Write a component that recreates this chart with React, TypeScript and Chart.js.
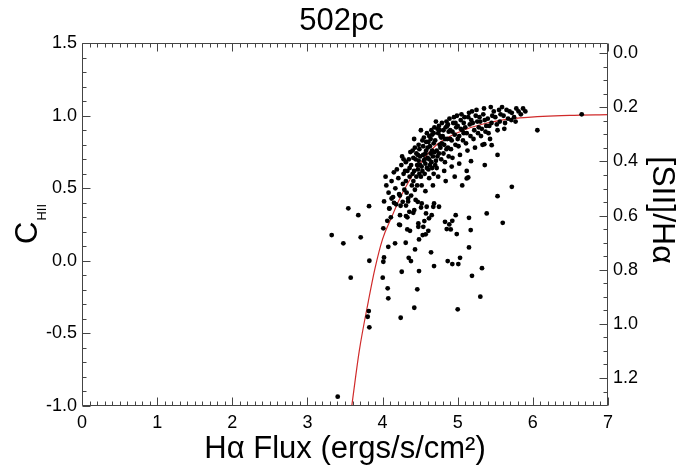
import React, { useEffect, useRef } from 'react';
import { Chart, registerables } from 'chart.js';
Chart.register(...registerables);

const TITLE = '502pc';
const X_TITLE = 'Hα Flux (ergs/s/cm²)';
const Y_TITLE_MAIN = 'C';
const Y_TITLE_SUB = 'HII';
const Y2_TITLE = '[SII]/Hα';

const xTicks = [0, 1, 2, 3, 4, 5, 6, 7];
const yTicks = [-1.0, -0.5, 0.0, 0.5, 1.0, 1.5];
const y2Ticks = [0.0, 0.2, 0.4, 0.6, 0.8, 1.0, 1.2];

// red fit curve
const fitX = [3.59, 3.69, 3.81, 3.9, 4.0, 4.12, 4.22, 4.46, 4.72, 5.03, 5.39, 5.83, 6.49, 7.0];
const fitY = [-1.0, -0.62, -0.28, -0.05, 0.15, 0.3, 0.42, 0.64, 0.8, 0.89, 0.95, 0.985, 1.003, 1.008];

// dense upper band of points
const bandPoints: [number, number][] = [
  [4.02, 0.41], [4.05, 0.52], [4.08, 0.47], [4.04, 0.58], [4.09, 0.36],
  [4.12, 0.55], [4.15, 0.61], [4.19, 0.63], [4.14, 0.44], [4.17, 0.5], [4.11, 0.3], [4.18, 0.39],
  [4.22, 0.46], [4.23, 0.45], [4.21, 0.57], [4.25, 0.66], [4.27, 0.53], [4.24, 0.38], [4.28, 0.6], [4.26, 0.72], [4.29, 0.49], [4.22, 0.25],
  [4.31, 0.55], [4.33, 0.62], [4.35, 0.7], [4.32, 0.47], [4.36, 0.58], [4.38, 0.66], [4.34, 0.41], [4.39, 0.52], [4.37, 0.75], [4.31, 0.68], [4.38, 0.45], [4.33, 0.3],
  [4.4, 0.76], [4.42, 0.62], [4.44, 0.7], [4.41, 0.55], [4.46, 0.66], [4.45, 0.58], [4.48, 0.8], [4.43, 0.49], [4.47, 0.73], [4.49, 0.6], [4.42, 0.84], [4.46, 0.52], [4.44, 0.42], [4.48, 0.69],
  [4.5, 0.72], [4.52, 0.65], [4.54, 0.79], [4.51, 0.58], [4.56, 0.7], [4.55, 0.85], [4.58, 0.76], [4.53, 0.62], [4.57, 0.67], [4.59, 0.88], [4.52, 0.52], [4.56, 0.6], [4.58, 0.82], [4.54, 0.73], [4.51, 0.9], [4.57, 0.48],
  [4.6, 0.78], [4.62, 0.7], [4.64, 0.84], [4.61, 0.63], [4.66, 0.76], [4.65, 0.9], [4.68, 0.81], [4.63, 0.66], [4.67, 0.72], [4.69, 0.92], [4.62, 0.57], [4.66, 0.87], [4.64, 0.74], [4.68, 0.6], [4.61, 0.82], [4.67, 0.52],
  [4.7, 0.83], [4.72, 0.76], [4.74, 0.88], [4.71, 0.69], [4.76, 0.8], [4.75, 0.93], [4.78, 0.85], [4.73, 0.72], [4.77, 0.78], [4.79, 0.95], [4.72, 0.64], [4.76, 0.9], [4.74, 0.58], [4.78, 0.7], [4.71, 0.96],
  [4.8, 0.86], [4.82, 0.8], [4.84, 0.92], [4.81, 0.74], [4.86, 0.84], [4.85, 0.96], [4.88, 0.89], [4.83, 0.68], [4.87, 0.78], [4.89, 0.98], [4.82, 0.62], [4.86, 0.93], [4.84, 0.55], [4.88, 0.72],
  [4.9, 0.9], [4.92, 0.83], [4.94, 0.95], [4.91, 0.77], [4.96, 0.87], [4.95, 0.99], [4.98, 0.92], [4.93, 0.71], [4.97, 0.8], [4.99, 1.0], [4.92, 0.65], [4.96, 0.58],
  [5.0, 0.93], [5.02, 0.86], [5.04, 0.97], [5.01, 0.79], [5.06, 0.9], [5.05, 1.01], [5.08, 0.95], [5.03, 0.73], [5.07, 0.83], [5.09, 0.99], [5.02, 0.67], [5.06, 0.52],
  [5.1, 0.92], [5.12, 0.88], [5.14, 0.99], [5.11, 0.81], [5.16, 0.94], [5.15, 1.02], [5.18, 0.97], [5.13, 0.76], [5.17, 0.86], [5.19, 1.03], [5.12, 0.62],
  [5.2, 0.95], [5.22, 0.9], [5.24, 1.0], [5.21, 0.84], [5.26, 0.96], [5.25, 1.04], [5.28, 0.92], [5.23, 0.78], [5.27, 0.88], [5.29, 0.99],
  [5.3, 0.96], [5.32, 0.91], [5.34, 1.01], [5.31, 0.86], [5.36, 0.97], [5.35, 1.05], [5.38, 0.93], [5.33, 0.8], [5.37, 0.89],
  [5.4, 0.98], [5.42, 0.93], [5.44, 1.06], [5.41, 0.88], [5.46, 1.0], [5.45, 0.95], [5.48, 1.03], [5.43, 0.84],
  [5.5, 0.99], [5.52, 0.94], [5.55, 1.04], [5.53, 0.9], [5.57, 1.01], [5.59, 1.06], [5.56, 0.96],
  [5.61, 1.0], [5.63, 0.95], [5.65, 1.04], [5.67, 0.98], [5.69, 1.03], [5.62, 0.91],
  [5.72, 1.02], [5.75, 0.99], [5.78, 1.05], [5.81, 1.03], [5.84, 1.01], [5.87, 1.05], [5.9, 1.03], [5.77, 0.96],
];

// extra points filling the densest part of the band
const coreBandPoints: [number, number][] = [
  [4.45, 0.74], [4.47, 0.63], [4.49, 0.77], [4.5, 0.66], [4.53, 0.83], [4.55, 0.69], [4.57, 0.74], [4.59, 0.64],
  [4.6, 0.71], [4.62, 0.86], [4.63, 0.79], [4.65, 0.68], [4.66, 0.64], [4.68, 0.88], [4.69, 0.75], [4.7, 0.66],
  [4.73, 0.91], [4.75, 0.74], [4.77, 0.86], [4.79, 0.81], [4.81, 0.9], [4.83, 0.84], [4.85, 0.77], [4.87, 0.94],
  [4.9, 0.84], [4.93, 0.89], [4.97, 0.95], [5.0, 0.84], [5.04, 0.91], [5.08, 0.88], [4.36, 0.64], [4.4, 0.6],
  [4.3, 0.62], [4.28, 0.7], [4.41, 0.71], [4.43, 0.78],
];

// scattered points between the band and the lower cloud
const midPoints: [number, number][] = [
  [5.72, 0.51], [5.53, 0.446], [5.36, 0.66], [5.53, 0.73], [5.12, 0.568], [5.14, 0.575], [5.177, 0.687],
  [5.354, 0.804], [5.452, 0.797], [5.713, 0.97], [6.06, 0.9], [4.12, 0.43], [4.34, 0.43], [6.65, 1.01],
];

// lower, sparse cloud
const lowerPoints: [number, number][] = [
  [3.544, 0.362], [3.82, 0.377], [3.677, 0.315], [3.323, 0.178], [3.478, 0.121], [3.709, 0.162], [3.824, 0.001],
  [3.576, -0.116], [4.002, -0.116], [4.01, -0.006], [4.019, 0.024], [4.076, 0.097], [4.166, 0.121], [4.01, 0.224],
  [4.063, 0.276], [4.09, 0.362], [4.152, 0.4], [4.268, 0.407], [4.312, 0.381], [4.232, 0.315], [4.232, 0.247],
  [4.312, 0.309], [4.356, 0.338], [4.409, 0.331], [4.422, 0.35], [4.329, 0.217], [4.365, 0.207], [4.308, 0.125],
  [4.432, 0.079], [4.348, 0.021], [4.378, -0.001], [4.255, -0.075], [4.068, -0.189], [4.076, -0.258], [3.816, -0.346],
  [3.802, -0.385], [3.824, -0.458], [4.241, -0.392], [4.422, -0.323], [4.462, -0.196], [4.485, -0.07], [4.485, 0.148],
  [4.476, 0.235], [4.476, 0.258], [4.468, 0.407], [4.521, 0.396], [4.512, 0.368], [4.542, 0.235], [4.556, 0.274],
  [4.587, 0.373], [4.578, 0.327], [4.618, 0.293], [4.654, 0.315], [4.675, 0.373], [4.685, 0.396], [4.751, 0.373],
  [4.609, 0.207], [4.574, 0.183], [4.534, 0.178], [4.645, 0.059], [4.685, -0.036], [4.831, 0.269], [4.888, 0.251],
  [4.928, 0.276], [4.973, 0.315], [4.854, 0.219], [4.907, 0.217], [4.987, 0.185], [4.867, -0.001], [4.928, -0.022],
  [5.008, -0.022], [5.031, 0.021], [5.15, 0.093], [5.15, 0.297], [5.173, 0.212], [5.386, 0.327], [5.599, 0.262],
  [5.323, -0.05], [5.19, -0.103], [5.301, -0.247], [5.0, -0.334], [3.403, -0.936],
];

const FONT = "'Liberation Sans', Arial, Helvetica, sans-serif";
const AXIS_COLOR = '#444';

const framePlugin = {
  id: 'frame',
  afterDatasetsDraw(chart: any) {
    const { ctx, chartArea, scales } = chart;
    const { left, right, top, bottom } = chartArea;
    const L = Math.round(left) + 0.5, R = Math.round(right) - 0.5;
    const T = Math.round(top) + 0.5, B = Math.round(bottom) - 0.5;
    ctx.save();
    ctx.strokeStyle = AXIS_COLOR;
    ctx.lineWidth = 1;
    ctx.beginPath();
    ctx.rect(L, T, R - L, B - T);
    for (let i = 0; i <= 70; i++) {
      const px = Math.round(scales.x.getPixelForValue(i / 10)) + 0.5;
      const len = i % 10 === 0 ? 8 : 4;
      ctx.moveTo(px, B); ctx.lineTo(px, B - len);
      ctx.moveTo(px, T); ctx.lineTo(px, T + len);
    }
    for (let i = -10; i <= 15; i++) {
      const py = Math.round(scales.y.getPixelForValue(i / 10)) + 0.5;
      const len = i % 5 === 0 ? 8 : 4;
      ctx.moveTo(L, py); ctx.lineTo(L + len, py);
    }
    for (let i = 0; i <= 26; i++) {
      const v = i * 0.05;
      if (v > scales.y2.max) continue;
      const py = Math.round(scales.y2.getPixelForValue(v)) + 0.5;
      const len = i % 4 === 0 ? 8 : 4;
      ctx.moveTo(R, py); ctx.lineTo(R - len, py);
    }
    ctx.stroke();

    ctx.fillStyle = '#000';
    ctx.save();
    ctx.translate(37, 244);
    ctx.rotate(-Math.PI / 2);
    ctx.textBaseline = 'alphabetic';
    ctx.textAlign = 'left';
    ctx.font = `31px ${FONT}`;
    ctx.fillText(Y_TITLE_MAIN, 0, 0);
    const w = ctx.measureText(Y_TITLE_MAIN).width;
    ctx.font = `13px ${FONT}`;
    ctx.fillText(Y_TITLE_SUB, w + 1, 9);
    ctx.restore();

    ctx.save();
    ctx.translate(662, 210);
    ctx.rotate(Math.PI / 2);
    ctx.textAlign = 'center';
    ctx.textBaseline = 'middle';
    ctx.font = `32px ${FONT}`;
    ctx.fillText(Y2_TITLE, 0, 0);
    ctx.restore();
    ctx.restore();
  },
};

export default function App() {
  const ref = useRef<HTMLCanvasElement>(null);
  useEffect(() => {
    document.body.style.margin = '0';
    const canvas = ref.current!;
    const tickFont = { family: FONT, size: 18 };
    const allPoints = [...bandPoints, ...coreBandPoints, ...midPoints, ...lowerPoints].map(([x, y]) => ({ x, y }));
    const fit = fitX.map((x, i) => ({ x, y: fitY[i] }));
    const chart = new Chart(canvas, {
      type: 'scatter',
      data: {
        datasets: [
          {
            data: allPoints,
            pointRadius: 2.4,
            pointBorderWidth: 0,
            backgroundColor: '#000',
            borderColor: '#000',
            order: 0,
          },
          {
            data: fit,
            showLine: true,
            pointRadius: 0,
            borderColor: '#d02a2a',
            borderWidth: 1.2,
            cubicInterpolationMode: 'monotone',
            order: 1,
          } as any,
        ],
      },
      plugins: [framePlugin],
      options: {
        animation: false,
        responsive: false,
        devicePixelRatio: 1,
        layout: { padding: 0 },
        plugins: {
          legend: { display: false },
          tooltip: { enabled: false },
          title: {
            display: true,
            text: TITLE,
            color: '#000',
            font: { family: FONT, size: 31, weight: 'normal', lineHeight: 1.2 },
            padding: { top: 3, bottom: 3 },
          },
        },
        scales: {
          x: {
            type: 'linear',
            position: 'bottom',
            min: 0,
            max: 7,
            afterBuildTicks: (s: any) => { s.ticks = xTicks.map((v) => ({ value: v })); },
            afterFit: (s: any) => { s.height = 65; },
            ticks: { font: tickFont, color: '#000', padding: 6, maxRotation: 0, autoSkip: false, callback: (v: any) => String(v) },
            grid: { display: false, drawTicks: false },
            border: { display: false },
            title: { display: true, text: X_TITLE, color: '#000', font: { family: FONT, size: 31 }, padding: { top: 0, bottom: 3 } },
          },
          y: {
            type: 'linear',
            position: 'left',
            min: -1,
            max: 1.5,
            afterBuildTicks: (s: any) => { s.ticks = yTicks.map((v) => ({ value: v })); },
            afterFit: (s: any) => { s.width = 82; },
            ticks: { font: tickFont, color: '#000', padding: 5, autoSkip: false, callback: (v: any) => Number(v).toFixed(1) },
            grid: { display: false, drawTicks: false },
            border: { display: false },
          },
          y2: {
            type: 'linear',
            position: 'right',
            min: -0.037,
            max: 1.3035,
            reverse: true,
            afterBuildTicks: (s: any) => { s.ticks = y2Ticks.map((v) => ({ value: v })); },
            afterFit: (s: any) => { s.width = 75; },
            ticks: { font: tickFont, color: '#000', padding: 5, autoSkip: false, callback: (v: any) => Number(v).toFixed(1) },
            grid: { display: false, drawTicks: false },
            border: { display: false },
          },
        },
      } as any,
    });
    return () => chart.destroy();
  }, []);
  return (
    <div style={{ position: 'absolute', left: 0, top: 0, width: 683, height: 471, background: '#fff' }}>
      <canvas ref={ref} width={683} height={471} style={{ width: 683, height: 471, display: 'block' }} />
    </div>
  );
}
